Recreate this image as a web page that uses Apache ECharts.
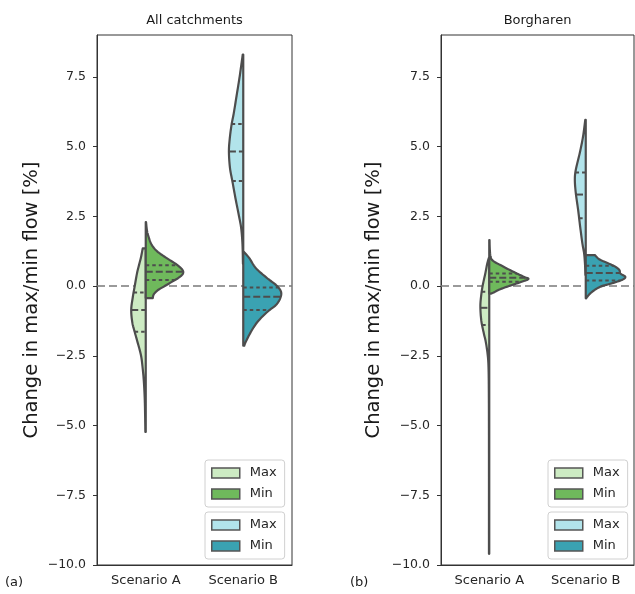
<!DOCTYPE html>
<html>
<head>
<meta charset="utf-8">
<script src="https://cdn.jsdelivr.net/npm/echarts@6/dist/echarts.min.js"></script>
<style>
  html, body { margin: 0; padding: 0; background: #ffffff; }
  #chart { width: 635px; height: 594px; }
</style>
</head>
<body>
<div id="chart"></div>
<script>
// ---- data -------------------------------------------------------------
const categories = ['Scenario A', 'Scenario B'];
const yTicks = [-10, -7.5, -5, -2.5, 0, 2.5, 5, 7.5];
const panelTitles = ['All catchments', 'Borgharen'];
const panelTags = ['(a)', '(b)'];
const yAxisTitle = 'Change in max/min flow [%]';

// Density outlines: [change in flow (%), half-width as a fraction of the category band]
const allMaxA = [[1.35,.031],[1.0,.051],[0.5,.087],[0.0,.113],[-0.4,.133],[-0.85,.149],[-1.3,.138],[-1.65,.113],[-2.0,.085],[-2.5,.048],[-3.0,.03],[-3.5,.018],[-4.2,.009],[-5.23,.004]];
const allMinA = [[2.29,.003],[2.0,.012],[1.8,.026],[1.5,.058],[1.25,.115],[1.0,.215],[0.8,.305],[0.6,.372],[0.45,.382],[0.3,.338],[0.15,.267],[0.0,.195],[-0.15,.123],[-0.3,.082],[-0.43,.072]];
const allMaxB = [[8.3,.005],[7.9,.021],[7.46,.039],[6.74,.072],[6.2,.097],[5.78,.12],[5.3,.138],[4.82,.147],[4.23,.136],[3.75,.111],[3.15,.08],[2.55,.046],[2.07,.021],[1.5,.008],[0.8,.003]];
const allMinB = [[1.23,.005],[1.0,.062],[0.64,.13],[0.28,.246],[0.04,.335],[-0.2,.387],[-0.44,.379],[-0.68,.335],[-0.92,.249],[-1.28,.147],[-1.64,.079],[-2.0,.026],[-2.14,.01]];

const borMaxA = [[1.0,.005],[0.8,.021],[0.45,.041],[0.0,.069],[-0.38,.085],[-0.75,.092],[-1.25,.082],[-1.7,.056],[-2.0,.036],[-2.5,.015],[-3.0,.007],[-4.0,.004],[-6.0,.003],[-9.6,.003]];
const borMinA = [[1.65,.003],[1.3,.006],[1.05,.015],[0.9,.041],[0.7,.144],[0.5,.256],[0.33,.359],[0.25,.405],[0.12,.308],[0.0,.205],[-0.12,.108],[-0.22,.051],[-0.27,.021]];
const borMaxB = [[5.96,.005],[5.36,.028],[4.77,.062],[4.17,.103],[3.81,.113],[3.33,.103],[2.73,.079],[2.13,.058],[1.53,.035],[1.17,.017],[0.8,.008],[0.4,.003]];
const borMinB = [[1.11,.095],[0.95,.144],[0.81,.236],[0.69,.308],[0.57,.349],[0.45,.359],[0.33,.41],[0.22,.375],[0.1,.273],[-0.02,.154],[-0.2,.068],[-0.38,.016],[-0.44,.005]];

// Quartiles: [upper quartile, median, lower quartile]
const allMaxAQ = [-0.23, -0.86, -1.64];
const allMinAQ = [0.75, 0.51, 0.22];
const allMaxBQ = [5.81, 4.82, 3.77];
const allMinBQ = [-0.05, -0.38, -0.86];
const borMaxAQ = [-0.2, -0.78, -1.4];
const borMinAQ = [0.45, 0.3, 0.15];
const borMaxBQ = [4.07, 3.28, 2.43];
const borMinBQ = [0.73, 0.47, 0.2];

// ---- styling ----------------------------------------------------------
const EDGE = '#4d4d4d';
const FONT = 'DejaVu Sans, sans-serif';
const colors = {
  'Max (A)': '#cdebc3',
  'Min (A)': '#6fb95c',
  'Max (B)': '#b2e4eb',
  'Min (B)': '#3aa2b2'
};

const violins = [
  { panel: 0, cat: 0, side: -1, name: 'Max (A)', profile: allMaxA, quart: allMaxAQ },
  { panel: 0, cat: 0, side: 1,  name: 'Min (A)', profile: allMinA, quart: allMinAQ },
  { panel: 0, cat: 1, side: -1, name: 'Max (B)', profile: allMaxB, quart: allMaxBQ },
  { panel: 0, cat: 1, side: 1,  name: 'Min (B)', profile: allMinB, quart: allMinBQ },
  { panel: 1, cat: 0, side: -1, name: 'Max (A)', profile: borMaxA, quart: borMaxAQ },
  { panel: 1, cat: 0, side: 1,  name: 'Min (A)', profile: borMinA, quart: borMinAQ },
  { panel: 1, cat: 1, side: -1, name: 'Max (B)', profile: borMaxB, quart: borMaxBQ },
  { panel: 1, cat: 1, side: 1,  name: 'Min (B)', profile: borMinB, quart: borMinBQ }
];

// Catmull-Rom spline through pixel points for a smooth outline
function smoothPath(pts, steps) {
  const out = [];
  const n = pts.length;
  for (let i = 0; i < n - 1; i++) {
    const p0 = pts[Math.max(i - 1, 0)], p1 = pts[i], p2 = pts[i + 1], p3 = pts[Math.min(i + 2, n - 1)];
    for (let s = 0; s < steps; s++) {
      const t = s / steps, t2 = t * t, t3 = t2 * t;
      const f = (a, b, c, d) => 0.5 * (2 * b + (-a + c) * t + (2 * a - 5 * b + 4 * c - d) * t2 + (-a + 3 * b - 3 * c + d) * t3);
      out.push([f(p0[0], p1[0], p2[0], p3[0]), f(p0[1], p1[1], p2[1], p3[1])]);
    }
  }
  out.push(pts[n - 1]);
  return out;
}

function widthAt(profile, v) {
  for (let i = 0; i < profile.length - 1; i++) {
    const a = profile[i], b = profile[i + 1];
    if ((v <= a[0] && v >= b[0])) {
      const t = (a[0] - v) / (a[0] - b[0]);
      return a[1] + (b[1] - a[1]) * t;
    }
  }
  return 0;
}

function makeRender(spec) {
  return function (params, api) {
    const cat = api.value(0);
    const c = api.coord([cat, 0])[0];
    const band = api.size([1, 0])[0];
    const side = spec.side;
    const edge = spec.profile.map(function (p) {
      return [c + side * p[1] * band, api.coord([cat, p[0]])[1]];
    });
    const curve = smoothPath(edge, 8).map(function (p) {
      return [side < 0 ? Math.min(p[0], c) : Math.max(p[0], c), p[1]];
    });
    const yTop = edge[0][1], yBot = edge[edge.length - 1][1];
    const pts = curve.concat([[c, yBot], [c, yTop]]);
    const children = [{
      type: 'polygon',
      shape: { points: pts },
      style: { fill: colors[spec.name], stroke: EDGE, lineWidth: 2.2, lineJoin: 'round' }
    }];
    spec.quart.forEach(function (q, i) {
      const w = widthAt(spec.profile, q) * band;
      const y = api.coord([cat, q])[1];
      const xa = side < 0 ? c - w : c;
      const xb = side < 0 ? c : c + w;
      children.push({
        type: 'line',
        shape: { x1: xa, y1: y, x2: xb, y2: y },
        style: { stroke: EDGE, lineWidth: 2, lineDash: i === 1 ? [7, 3] : [3.5, 3] }
      });
    });
    return { type: 'group', children: children };
  };
}

// ---- layout -----------------------------------------------------------
const grids = [
  { left: 97, top: 35, width: 195, height: 530 },
  { left: 441, top: 35, width: 193, height: 530 }
];
const nameGaps = [55, 57];
const legendLefts = [205, 548];

const fmt = v => v.toFixed(1).replace('-', '\u2212');

const option = {
  animation: false,
  backgroundColor: '#ffffff',
  textStyle: { fontFamily: FONT },
  title: panelTitles.map((t, i) => ({
    text: t,
    left: grids[i].left + grids[i].width / 2,
    top: 14,
    padding: 0,
    textAlign: 'center',
    textStyle: { fontFamily: FONT, fontSize: 13, fontWeight: 'normal', color: '#1a1a1a' }
  })),
  grid: grids.map(g => Object.assign({ show: true, borderColor: '#333', borderWidth: 1, backgroundColor: 'transparent' }, g)),
  xAxis: grids.map((g, i) => ({
    type: 'category',
    gridIndex: i,
    data: categories,
    boundaryGap: true,
    axisLine: { onZero: false, lineStyle: { color: '#333', width: 1 } },
    axisTick: { alignWithLabel: true, length: 4, lineStyle: { color: '#333' } },
    axisLabel: { fontFamily: FONT, fontSize: 13, color: '#262626', margin: 9 },
    splitLine: { show: false }
  })),
  yAxis: grids.map((g, i) => ({
    type: 'value',
    gridIndex: i,
    min: -10,
    max: 9,
    interval: 2.5,
    name: yAxisTitle,
    nameLocation: 'middle',
    nameGap: nameGaps[i],
    nameTextStyle: { fontFamily: FONT, fontSize: 19.5, color: '#1a1a1a' },
    axisLine: { show: true, onZero: false, lineStyle: { color: '#333', width: 1 } },
    axisTick: { show: true, length: 4, customValues: yTicks, lineStyle: { color: '#333' } },
    axisLabel: { fontFamily: FONT, fontSize: 12.5, color: '#262626', margin: 11, customValues: yTicks, formatter: fmt },
    splitLine: { show: false }
  })),
  legend: [0, 1].flatMap(p => [
    { names: ['Max (A)', 'Min (A)'], top: 460 },
    { names: ['Max (B)', 'Min (B)'], top: 512 }
  ].map(l => ({
    data: l.names,
    orient: 'vertical',
    left: legendLefts[p],
    top: l.top,
    icon: 'rect',
    itemWidth: 28,
    itemHeight: 10,
    itemGap: 7,
    padding: [6, 8, 6, 6],
    backgroundColor: '#ffffff',
    borderColor: '#d0d0d0',
    borderWidth: 1,
    borderRadius: 3,
    selectedMode: false,
    itemStyle: { borderColor: '#555', borderWidth: 1.5 },
    textStyle: { fontFamily: FONT, fontSize: 13, color: '#262626', lineHeight: 14, padding: [0, 0, 0, 5] },
    formatter: name => name.split(' ')[0]
  }))),
  graphic: panelTags.map((t, i) => ({
    type: 'text',
    left: i === 0 ? 5 : 350,
    top: 576,
    style: { text: t, font: '13px ' + FONT, fill: '#1a1a1a' }
  })),
  series: [
    ...[0, 1].map(p => ({
      type: 'line',
      xAxisIndex: p,
      yAxisIndex: p,
      data: [],
      z: 1,
      markLine: {
        silent: true,
        symbol: 'none',
        label: { show: false },
        lineStyle: { type: [8, 4], color: '#7a7a7a', width: 1.6 },
        data: [{ yAxis: 0 }]
      }
    })),
    ...violins.map(v => ({
      type: 'custom',
      name: v.name,
      xAxisIndex: v.panel,
      yAxisIndex: v.panel,
      z: 10,
      itemStyle: { color: colors[v.name], borderColor: EDGE, borderWidth: 1.5 },
      encode: { x: 0, y: 1 },
      data: [[v.cat, v.quart[1]]],
      renderItem: makeRender(v)
    }))
  ]
};

const chart = echarts.init(document.getElementById('chart'), null, { renderer: 'canvas' });
chart.setOption(option);
</script>
</body>
</html>
